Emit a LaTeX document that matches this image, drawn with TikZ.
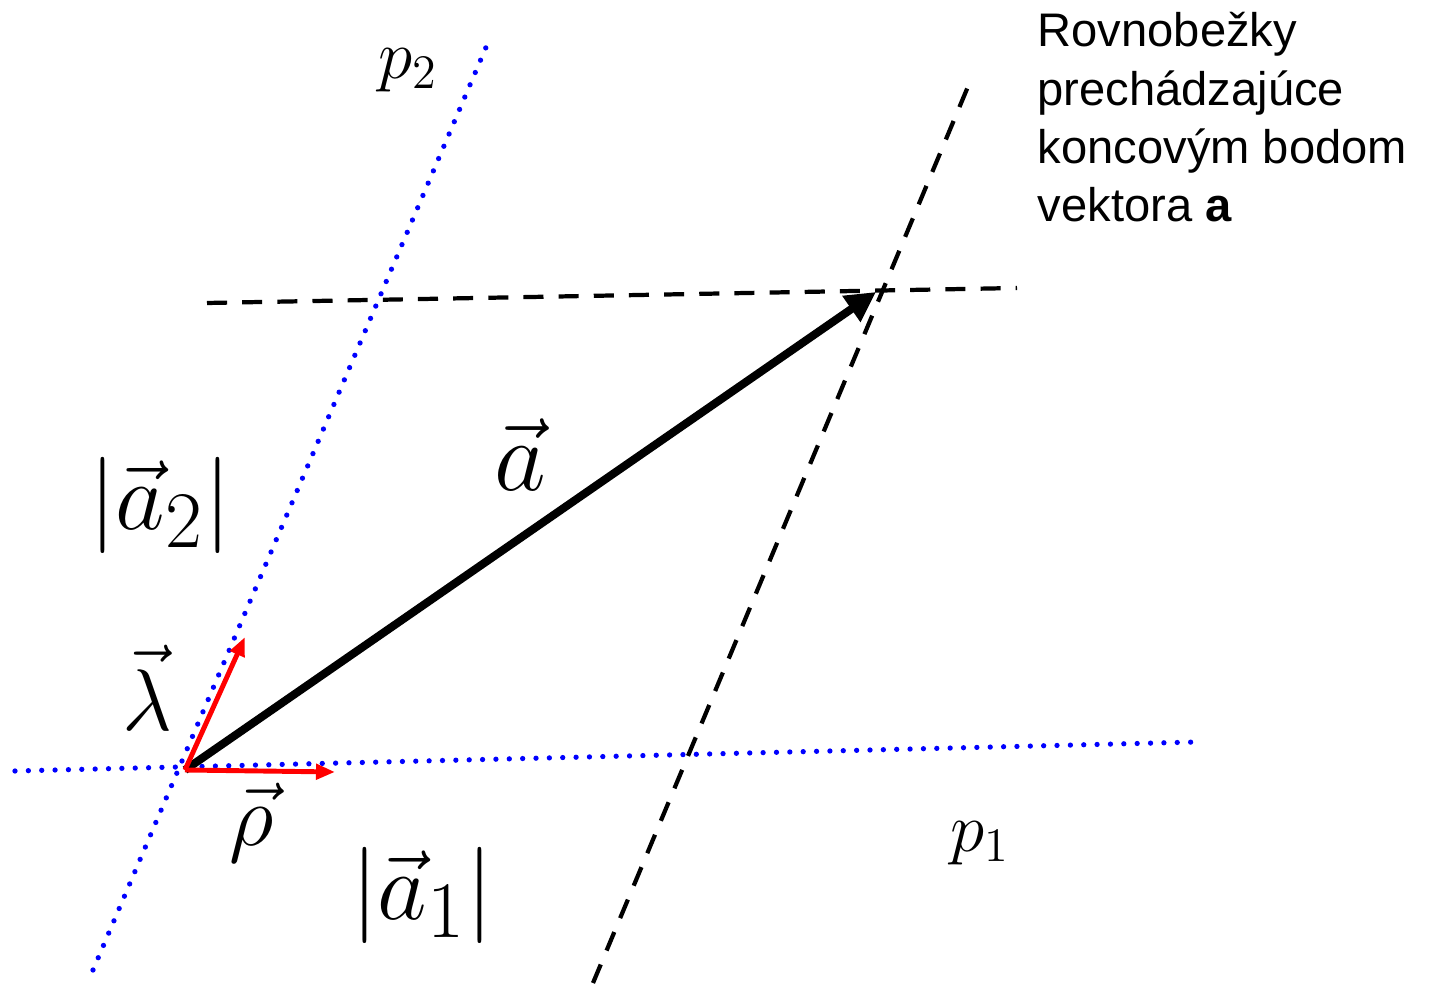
\documentclass[tikz,border=0pt]{standalone}
\usepackage{fontspec}
\newfontfamily\arialfont{Liberation Sans}
\usetikzlibrary{arrows.meta}
\begin{document}
\begin{tikzpicture}[x=0.01cm,y=0.01cm,
  osdot/.style={blue,line width=1.5pt,line cap=round,dash pattern=on 0pt off 3.8pt},
  rovno/.style={black,line width=1.2pt,dash pattern=on 5.7pt off 4.3pt},
  zlozka/.style={red,line width=1.4pt,-{Triangle[length=0.19cm,width=0.15cm]}},
  popis/.style={inner sep=0pt,font=\Huge,scale=1.15},
  modul/.style={inner sep=0pt,font=\Huge,scale=1.1},
  grecke/.style={inner sep=0pt,font=\Huge,scale=1.0},
  maly/.style={inner sep=0pt,font=\huge,scale=0.95}]
\useasboundingbox (0,0) rectangle (1430,985);
% body priamok
\coordinate (O) at (185,215);
\coordinate (A) at (876,693);
\coordinate (p2a) at (93,15);
\coordinate (p2b) at (487,940);
\coordinate (p1a) at (15,214);
\coordinate (p1b) at (1197,243);
\coordinate (r1a) at (593,2);
\coordinate (r1b) at (972,908);
\coordinate (r2a) at (207,682);
\coordinate (r2b) at (1017,697);
\coordinate (L) at (245,348);
\coordinate (R) at (335,213);
% osi
\draw[osdot] (p2a) -- (p2b);
\draw[osdot] (p1a) -- (p1b);
% rovnobezky
\draw[rovno] (r1a) -- (r1b);
\draw[rovno] (r2a) -- (r2b);
% vektor a
\draw[line width=2.3pt,-{Triangle[length=0.3cm,width=0.3cm]}] (O) -- (A);
% jednotkove vektory
\draw[zlozka] (O) -- (L);
\draw[zlozka] (O) -- (R);
% popisy
\node[maly] (lp2) at (408,915) {$p_2$};
\node[maly] (lp1) at (980,142) {$p_1$};
\node[popis] (la) at (520,530) {$\vec{a}$};
\node[modul] (la2) at (160,480) {$\left|\vec{a}_2\right|$};
\node[modul] (la1) at (422,90) {$\left|\vec{a}_1\right|$};
\node[grecke] (llam) at (147,297) {$\vec{\lambda}$};
\node[grecke] (lrho) at (252,162) {$\vec{\rho}$};
\node[anchor=north west,inner sep=0pt,align=left,
  font=\arialfont\fontsize{13.4}{16.5}\selectfont] (txt) at (1037,973)
  {Rovnobežky\\prechádzajúce\\koncovým bodom\\vektora \textbf{a}};
\end{tikzpicture}
\end{document}
